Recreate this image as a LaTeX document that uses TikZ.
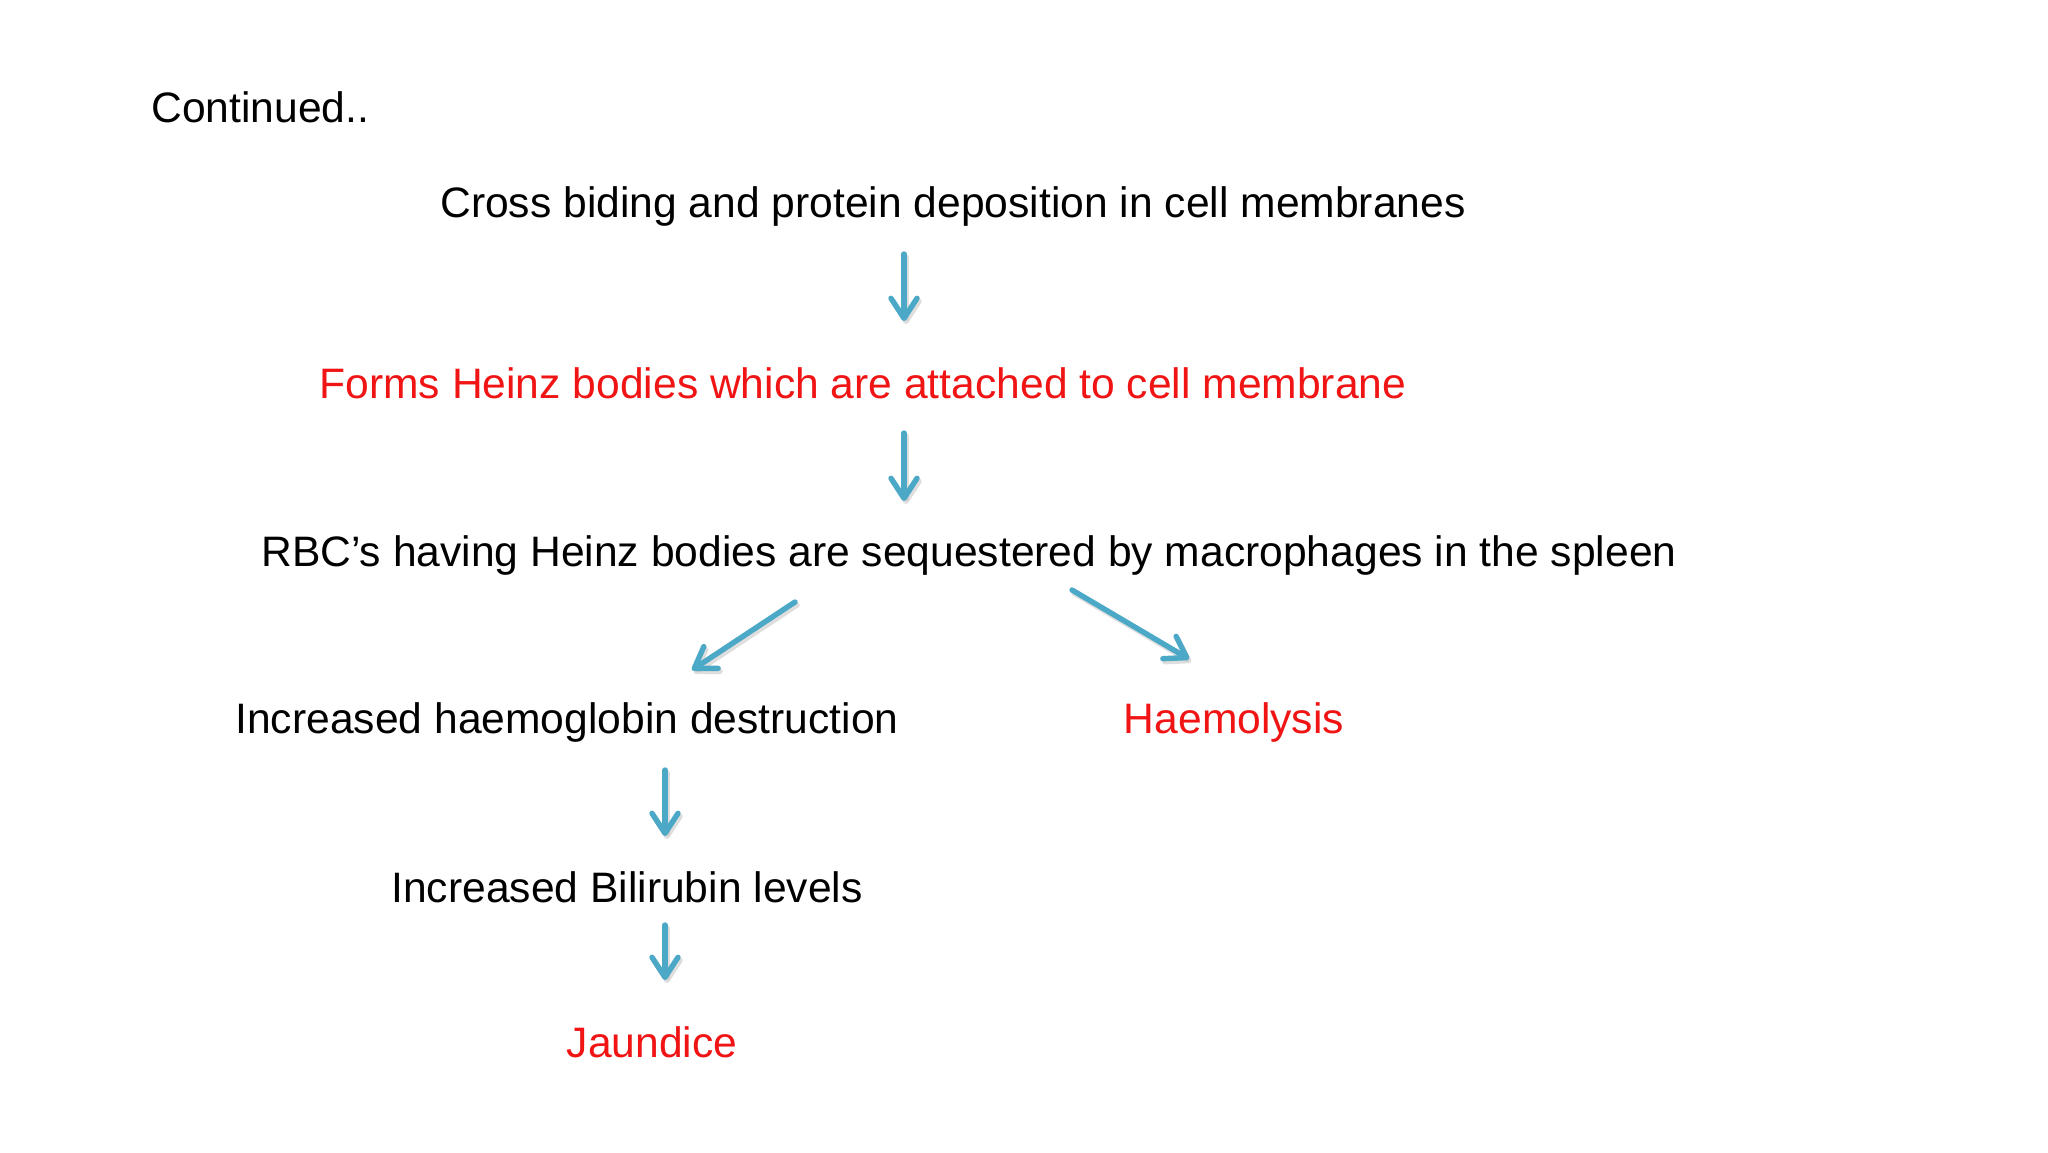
\documentclass[tikz,border=0pt]{standalone}
\usepackage{fontspec}
\setmainfont{Liberation Sans}
\usetikzlibrary{arrows.meta}
\definecolor{arrowblue}{RGB}{75,168,198}
\definecolor{txtred}{RGB}{240,20,20}
\begin{document}
\begin{tikzpicture}[x=0.5pt,y=-0.5pt,
  lbl/.style={inner sep=0pt,font=\fontsize{21.3pt}{25pt}\selectfont,text height=0.72em,text depth=0pt,anchor=center},
  redlbl/.style={lbl,text=txtred},
  flowarrow/.style={draw=arrowblue,line width=2.7pt,line cap=round,
     -{Straight Barb[length=10pt,width=13pt,line width=2.7pt,round]}},
  arrowshadow/.style={draw=black!25,opacity=0.5,line width=2.7pt,line cap=round,
     -{Straight Barb[length=10pt,width=13pt,line width=2.7pt,round]}}]
\useasboundingbox[fill=white] (0,0) rectangle (2048,1152);
\node[lbl,anchor=west] (cont) at (151,115) {Continued..};
\node[lbl] (cross) at (953,210) {Cross biding and protein deposition in cell membranes};
\node[redlbl] (heinz) at (863,391) {Forms Heinz bodies which are attached to cell membrane};
\node[lbl] (rbc) at (969,559) {RBC’s having Heinz bodies are sequestered by macrophages in the spleen};
\node[lbl] (hbd) at (567,726) {Increased haemoglobin destruction};
\node[redlbl] (haem) at (1234,726) {Haemolysis};
\node[lbl] (bili) at (627,895) {Increased Bilirubin levels};
\node[redlbl] (jaun) at (652,1050) {Jaundice};
% arrow end points
\coordinate (a1s) at (904,254);
\coordinate (a1e) at (904,321);
\coordinate (a2s) at (904,433);
\coordinate (a2e) at (904,501);
\coordinate (a3s) at (795,602);
\coordinate (a3e) at (692,670);
\coordinate (a4s) at (1072,590);
\coordinate (a4e) at (1189,659);
\coordinate (a5s) at (665,770);
\coordinate (a5e) at (665,836);
\coordinate (a6s) at (665,925);
\coordinate (a6e) at (665,980);
\foreach \s/\e in {a1s/a1e,a2s/a2e,a3s/a3e,a4s/a4e,a5s/a5e,a6s/a6e}{
  \draw[arrowshadow] ([shift={(2,3)}]\s) -- ([shift={(2,3)}]\e);
  \draw[flowarrow] (\s) -- (\e);
}
\end{tikzpicture}
\end{document}
